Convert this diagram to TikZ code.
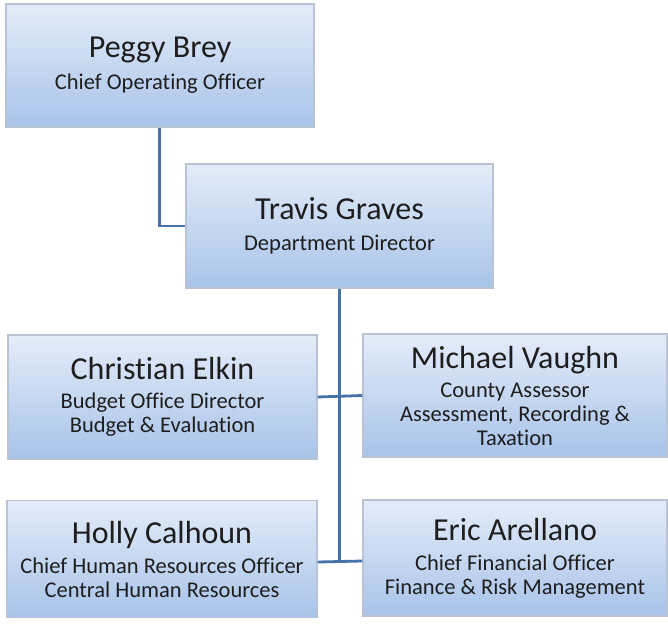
\documentclass[tikz,border=0pt]{standalone}
\usepackage{fontspec}
\setmainfont[Ligatures={NoCommon}]{Carlito}
\usetikzlibrary{calc}
\definecolor{topc}{HTML}{E4ECF9}
\definecolor{botc}{HTML}{A8C3E9}
\definecolor{edgec}{HTML}{B9C3D1}
\definecolor{linec}{HTML}{4671AB}
\definecolor{txt}{HTML}{1E1E1E}
\tikzset{
  orgbox/.style={rectangle, draw=edgec, line width=1.2pt, top color=topc, bottom color=botc,
    inner sep=0pt, align=center, text=txt, font={\fontsize{22.5}{24}\selectfont}},
  conn/.style={draw=linec, line width=2.8pt},
}
\newcommand{\nm}[1]{{\fontsize{32}{32}\selectfont #1}}
\begin{document}
\begin{tikzpicture}[x=1pt,y=-1pt]
\useasboundingbox (0,0) rectangle (668,623);
\node[orgbox, minimum width=308pt, minimum height=123pt] (A) at (160,65.5)
  {\nm{Peggy Brey}\\[8pt]Chief Operating Officer};
\node[orgbox, minimum width=307pt, minimum height=124pt] (B) at (339.5,226)
  {\nm{Travis Graves}\\[7pt]Department Director};
\node[orgbox, minimum width=309pt, minimum height=124pt] (C) at (162.5,397)
  {\nm{Christian Elkin}\\[5pt]Budget Office Director\\Budget \& Evaluation};
\node[orgbox, minimum width=304pt, minimum height=123pt] (D) at (515,395.5)
  {\nm{Michael Vaughn}\\[5pt]County Assessor\\Assessment, Recording \&\\Taxation};
\node[orgbox, minimum width=310pt, minimum height=117pt] (E) at (162,559)
  {\nm{Holly Calhoun}\\[6pt]Chief Human Resources Officer\\Central Human Resources};
\node[orgbox, minimum width=304pt, minimum height=116pt] (F) at (515,558)
  {\nm{Eric Arellano}\\[6pt]Chief Financial Officer\\Finance \& Risk Management};
\draw[conn] ($(A.south west)+(154,0)$) |- (B.west);
\draw[conn] (B.south) -- ($(B.south |- E.east)+(0,3)$);
\draw[conn] (C.east) -- (D.west);
\draw[conn] ($(E.east)+(0,3)$) -- ($(F.west)+(0,3)$);
\end{tikzpicture}
\end{document}
